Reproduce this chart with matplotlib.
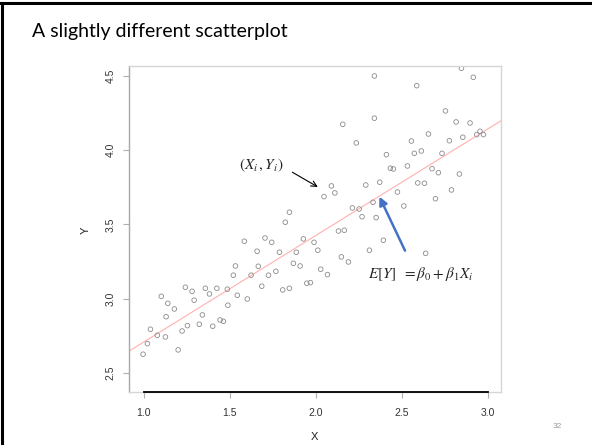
import matplotlib
matplotlib.use("Agg")
import matplotlib.pyplot as plt
from matplotlib.transforms import blended_transform_factory

# ---- data ----
x_vals = [2.342, 2.848, 2.917, 2.588, 2.755, 2.342, 2.158, 2.817, 2.898, 2.656,
          2.937, 2.956, 2.976, 2.856, 2.237, 2.557, 2.778, 2.412, 2.574, 2.615,
          2.735, 2.435, 2.452, 2.534, 2.677, 2.714, 2.836, 2.092, 2.049, 2.112,
          2.292, 2.373, 2.594, 2.633, 2.476, 2.790, 2.334, 2.697, 2.214, 2.253,
          2.513, 2.270, 2.352, 2.133, 2.167, 2.394, 2.313, 2.640, 2.150, 2.191,
          2.030, 2.069, 1.848, 1.824, 1.586, 1.706, 1.745, 1.929, 1.991, 1.660,
          1.790, 1.888, 2.013, 1.534, 1.667, 1.871, 1.910, 1.522, 1.625, 1.726,
          1.769, 1.687, 1.809, 1.848, 1.949, 1.970, 1.243, 1.282, 1.359, 1.383,
          1.426, 1.487, 1.545, 1.603, 1.103, 1.141, 1.294, 1.179, 1.490, 1.131,
          1.342, 1.445, 1.464, 1.255, 1.324, 1.402, 1.040, 1.224, 1.080, 1.127,
          1.022, 1.201, 0.997]
y_vals = [4.498, 4.550, 4.489, 4.433, 4.263, 4.214, 4.173, 4.189, 4.182, 4.108,
          4.104, 4.126, 4.104, 4.086, 4.048, 4.061, 4.063, 3.969, 3.978, 3.994,
          3.978, 3.878, 3.873, 3.893, 3.875, 3.848, 3.839, 3.759, 3.687, 3.712,
          3.765, 3.784, 3.779, 3.777, 3.718, 3.732, 3.649, 3.673, 3.611, 3.604,
          3.624, 3.552, 3.546, 3.456, 3.461, 3.394, 3.327, 3.306, 3.282, 3.248,
          3.199, 3.163, 3.582, 3.515, 3.387, 3.409, 3.380, 3.403, 3.380, 3.320,
          3.313, 3.313, 3.327, 3.221, 3.219, 3.239, 3.221, 3.159, 3.159, 3.159,
          3.185, 3.085, 3.060, 3.071, 3.105, 3.109, 3.078, 3.051, 3.071, 3.033,
          3.071, 3.065, 3.024, 2.999, 3.017, 2.970, 2.991, 2.932, 2.957, 2.880,
          2.892, 2.858, 2.849, 2.820, 2.829, 2.816, 2.796, 2.784, 2.755, 2.744,
          2.699, 2.657, 2.628]
beta0 = 1.993
beta1 = 0.716
x_ticks = [1.0, 1.5, 2.0, 2.5, 3.0]
y_ticks = [2.5, 3.0, 3.5, 4.0, 4.5]
x_tick_labels = ["1.0", "1.5", "2.0", "2.5", "3.0"]
y_tick_labels = ["2.5", "3.0", "3.5", "4.0", "4.5"]
title = "A slightly different scatterplot"
page_no = "32"

W, H = 592, 445
fig = plt.figure(figsize=(W / 100, H / 100), dpi=100)
fig.patch.set_facecolor("white")

def fx(px):
    return px / W

def fy(py):
    return 1 - py / H

# slide border (top and left)
fig.add_artist(plt.Line2D([0, 1], [fy(3), fy(3)], color="black", lw=2.2,
                          transform=fig.transFigure))
fig.add_artist(plt.Line2D([fx(2), fx(2)], [0, fy(3)], color="black", lw=2.2,
                          transform=fig.transFigure))

fig.text(fx(32), fy(31), title, fontsize=14, family="Lato",
         va="center", ha="left", color="black")

ax = fig.add_axes([fx(129.3), fy(391.7), fx(501) - fx(129.3), fy(65.7) - fy(391.7)])
ax.set_xlim(0.917, 3.078)
ax.set_ylim(2.376, 4.567)

for side in ["top", "right", "bottom"]:
    ax.spines[side].set_color("#d6d6d6")
    ax.spines[side].set_linewidth(1.0)
ax.spines["left"].set_color("#a8a8a8")
ax.spines["left"].set_linewidth(1.0)

# black axis line along bottom between first and last ticks
tb = blended_transform_factory(ax.transData, ax.transAxes)
ax.plot([x_ticks[0], x_ticks[-1]], [0, 0], color="black", lw=1.3,
        transform=tb, clip_on=False, zorder=5)

ax.set_xticks(x_ticks)
ax.set_xticklabels(x_tick_labels)
ax.set_yticks(y_ticks)
ax.set_yticklabels(y_tick_labels, rotation=90, va="center")
ax.tick_params(axis="both", length=4.3, width=0.8, color="#b0b0b0",
               labelsize=7.5, labelcolor="#333333")
ax.tick_params(axis="x", pad=7.5)
ax.tick_params(axis="y", pad=5.5)
for lab in ax.get_xticklabels() + ax.get_yticklabels():
    lab.set_family("Liberation Sans")

ax.axline((0, beta0), slope=beta1, color="#ffb0b0", lw=0.8, zorder=1)
ax.scatter(x_vals, y_vals, s=11, facecolors="none", edgecolors="#8c8c8c",
           linewidths=0.6, zorder=2)

plt.rcParams["mathtext.fontset"] = "stix"
ax.text(1.683, 3.900, r"$(X_i\,,Y_i)$", fontsize=11, ha="center", va="center",
        color="#222222")
ax.annotate("", xy=(2.013, 3.752), xytext=(1.865, 3.851),
            arrowprops=dict(arrowstyle="->", color="black", lw=0.8,
                            shrinkA=0, shrinkB=0))
ax.annotate("", xy=(2.371, 3.687), xytext=(2.520, 3.324),
            arrowprops=dict(arrowstyle="-|>", color="#4472c4", lw=1.8,
                            mutation_scale=12, shrinkA=0, shrinkB=0))
ax.text(2.613, 3.167, r"$E[Y]\;\;=\beta_0+\beta_1 X_i$", fontsize=11,
        ha="center", va="center", color="#222222")

fig.text(fx(314), fy(437), "X", fontsize=8, family="Liberation Sans",
         ha="center", va="center", color="#222222")
fig.text(fx(86), fy(230), "Y", fontsize=8, family="Liberation Sans",
         ha="center", va="center", rotation=90, color="#222222")
fig.text(fx(557), fy(427), page_no, fontsize=6, family="Liberation Sans",
         ha="center", va="center", color="#9a9a9a")

fig.savefig("out.png", dpi=100)
